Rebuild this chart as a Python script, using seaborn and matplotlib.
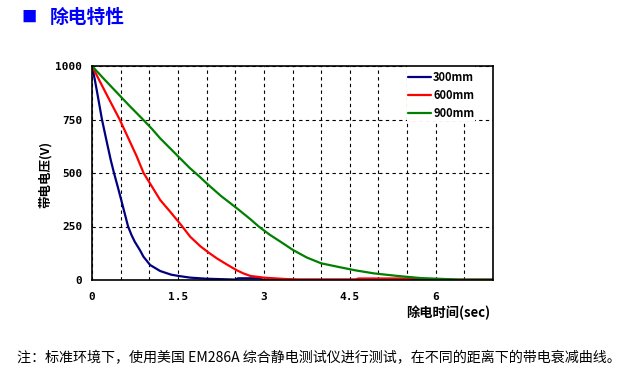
import pandas as pd
import matplotlib
matplotlib.use("Agg")
import matplotlib.pyplot as plt
from matplotlib.patches import Rectangle
import seaborn as sns

# values
t_300 = [0, 0.05, 0.093, 0.174, 0.25, 0.326, 0.384, 0.45, 0.51, 0.63, 0.69, 0.744, 0.84, 0.898, 1.015, 1.19,
         1.38, 1.51, 1.715, 2.0, 2.5, 2.55, 2.93, 2.98, 7.0]
v_300 = [1000, 935, 872, 750, 655, 562, 500, 435, 374, 250, 210, 180, 138, 109, 70, 42,
         25, 19, 11, 6, 2, 8, 8, 1, 1]

t_600 = [0, 0.105, 0.22, 0.35, 0.483, 0.63, 0.78, 0.9, 1.05, 1.19, 1.365, 1.51, 1.57, 1.715, 1.89, 2.036,
         2.18, 2.357, 2.53, 2.65, 2.765, 3.0, 3.35, 3.6, 4.6, 4.65, 5.7, 5.75, 7.0]
v_600 = [1000, 945, 885, 818, 750, 665, 578, 500, 435, 374, 319, 272, 252, 202, 158, 128,
         101, 72, 45, 30, 19, 11, 5, 2, 2, 7, 7, 1, 1]

t_900 = [0, 0.2, 0.42, 0.65, 0.89, 1.05, 1.19, 1.51, 1.7, 1.89, 2.0, 2.25, 2.53, 2.765, 2.91, 3.1, 3.29, 3.51,
         3.75, 4.0, 4.34, 4.6, 4.92, 5.33, 5.74, 6.21, 6.4, 7.0]
v_900 = [1000, 942, 880, 815, 750, 705, 662, 576, 525, 480, 452, 393, 335, 284, 250, 212, 179, 140,
         105, 78, 59, 45, 31, 19, 9, 4, 1, 1]

series_names = ["300mm", "600mm", "900mm"]
series_colors = ["#000080", "#ff0000", "#008000"]

x_ticks = [0, 1.5, 3, 4.5, 6]
x_tick_labels = ["0", "1.5", "3", "4.5", "6"]
y_ticks = [0, 250, 500, 750, 1000]

df = pd.concat([
    pd.DataFrame({"t": t_300, "v": v_300, "dist": "300mm"}),
    pd.DataFrame({"t": t_600, "v": v_600, "dist": "600mm"}),
    pd.DataFrame({"t": t_900, "v": v_900, "dist": "900mm"}),
])

sns.set_style("white")
plt.rcParams["font.family"] = ["Noto Sans CJK SC", "DejaVu Sans"]

fig = plt.figure(figsize=(6.31, 3.76), dpi=100)
ax = fig.add_axes([92 / 631, 1 - 280 / 376, 401 / 631, 214 / 376])

sns.lineplot(data=df, x="t", y="v", hue="dist", hue_order=series_names,
             palette=series_colors, linewidth=1.6, ax=ax, legend=True)

ax.set_xlim(0, 7)
ax.set_ylim(0, 1000)
ax.set_xticks([i * 0.5 for i in range(15)], minor=True)
ax.set_xticks(x_ticks)
ax.set_xticklabels(x_tick_labels, fontweight="bold", fontsize=8, family="DejaVu Sans Mono", color="black")
ax.set_yticks(y_ticks)
ax.set_yticklabels([str(v) for v in y_ticks], fontweight="bold", fontsize=8, family="DejaVu Sans Mono",
                   color="black")
ax.tick_params(which="both", length=0)
ax.tick_params(axis="y", pad=7)
ax.tick_params(axis="x", pad=9)
ax.grid(True, which="both", color="black", linestyle=(0, (3, 3)), linewidth=0.8)
ax.set_axisbelow(True)
for s in ax.spines.values():
    s.set_color("black")
    s.set_linewidth(1.2)

# white patch behind the legend hides the grid there
ax.add_patch(Rectangle(((407 - 92) / 401, (280 - 121) / 214), 68 / 401, 1 - (280 - 121) / 214,
                       transform=ax.transAxes, facecolor="white", edgecolor="none", zorder=1))

ax.set_xlabel("")
ax.set_ylabel("")
fig.text(45 / 631, 1 - 174 / 376, "带电电压(V)", rotation=90, ha="center", va="center",
         fontsize=9, fontweight="bold", color="black")
fig.text(490 / 631, 1 - 313 / 376, "除电时间(sec)", ha="right", va="center",
         fontsize=9.5, fontweight="bold", color="black")

leg = ax.legend(loc="upper left", bbox_to_anchor=((408 - 92) / 401, (280 - 71) / 214),
                frameon=False, fontsize=8, handlelength=2.1, handletextpad=0.15,
                labelspacing=0.45, borderpad=0, borderaxespad=0)
for txt in leg.get_texts():
    txt.set_fontweight("bold")
    txt.set_color("black")

# header and footnote
fig.text(21 / 631, 1 - 17 / 376, "■", color="#0000ff", fontsize=11, va="center", ha="left")
fig.text(50 / 631, 1 - 17 / 376, "除电特性", color="#0000ff", fontsize=13.5,
         fontweight="bold", va="center", ha="left")
fig.text(17 / 631, 1 - 358 / 376,
         "注：标准环境下，使用美国 EM286A 综合静电测试仪进行测试，在不同的距离下的带电衰减曲线。",
         fontsize=10.1, va="center", ha="left", color="black")

fig.savefig("out.png", dpi=100)
